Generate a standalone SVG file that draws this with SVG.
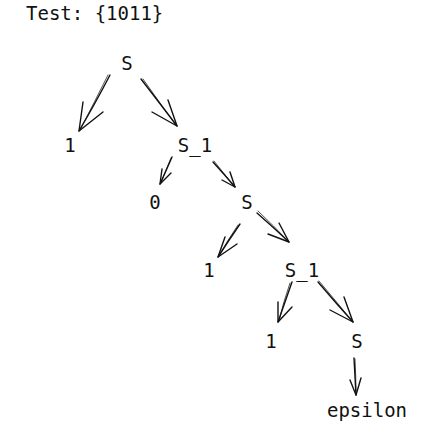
<svg xmlns="http://www.w3.org/2000/svg" width="434" height="439" viewBox="0 0 434 439">
<style>
text{font-family:"DejaVu Sans Mono","Liberation Mono",monospace;font-size:19px;fill:#111;text-anchor:middle}
.title{text-anchor:start}
.c path{fill:none;stroke:#111;stroke-width:1.4;stroke-linecap:round;stroke-linejoin:round}
.c .s{stroke-width:0.9;opacity:0.8}
</style>
<rect width="434" height="439" fill="#fff"/>
<text class="title" x="26" y="20">Test: {1011}</text>
<g class="c" id="connectors">
<!-- S -> 1 -->
<path d="M110 75 Q96 102 79 131"/><path class="s" d="M108 75 Q94 103 80 130"/>
<path d="M83 102 L79 131 L103 112"/>
<!-- S -> S_1 -->
<path d="M141 79 Q158 101 177 126"/><path class="s" d="M143 79 Q159 102 176 125"/>
<path d="M168 100 L177 126 L152 112"/>
<!-- S_1 -> 0 -->
<path d="M172 157 Q166 171 160 184"/><path class="s" d="M171 158 Q165 172 161 183"/>
<path d="M162 169 L160 184 L171 173"/>
<!-- S_1 -> S -->
<path d="M213 162 Q224 174 235 187"/><path class="s" d="M214 161 Q225 175 234 186"/>
<path d="M230 172 L235 187 L222 180"/>
<!-- S -> 1 -->
<path d="M240 224 Q229 240 218 257"/><path class="s" d="M238 225 Q227 241 219 256"/>
<path d="M225 237 L218 257 L237 244"/>
<!-- S -> S_1 -->
<path d="M257 213 Q273 227 289 242"/><path class="s" d="M258 211 Q274 226 288 241"/>
<path d="M279 223 L289 242 L268 234"/>
<!-- S_1 -> 1 -->
<path d="M292 282 Q285 302 278 322"/><path class="s" d="M290 283 Q283 303 279 321"/>
<path d="M278 302 L278 322 L292 307"/>
<!-- S_1 -> S -->
<path d="M318 282 Q335 302 353 322"/><path class="s" d="M319 281 Q336 301 352 321"/>
<path d="M344 297 L353 322 L330 310"/>
<!-- S -> epsilon -->
<path d="M354 358 Q355 376 356 395"/><path class="s" d="M355 359 Q356 377 356 394"/>
<path d="M350 380 L356 395 L361 378"/>
</g>
<g id="n_S0"><text x="127" y="70">S</text></g>
<g id="n_1a"><text x="70" y="152">1</text></g>
<g id="n_S1a"><text x="195" y="152">S_1</text></g>
<g id="n_0"><text x="155" y="209">0</text></g>
<g id="n_S1"><text x="247" y="209">S</text></g>
<g id="n_1b"><text x="209" y="277">1</text></g>
<g id="n_S1b"><text x="302" y="277">S_1</text></g>
<g id="n_1c"><text x="271" y="348">1</text></g>
<g id="n_S2"><text x="357" y="348">S</text></g>
<g id="n_eps"><text x="367" y="417">epsilon</text></g>
</svg>
